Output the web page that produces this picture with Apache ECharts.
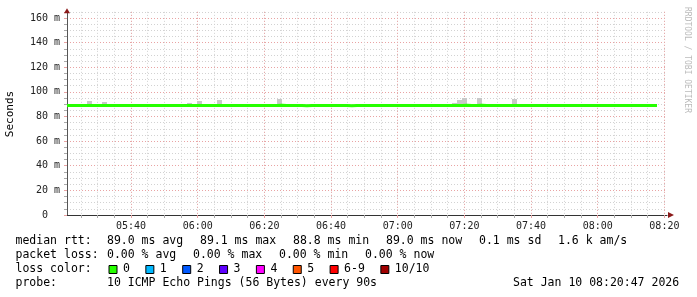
<!DOCTYPE html>
<html>
<head>
<meta charset="utf-8">
<script src="https://cdn.jsdelivr.net/npm/echarts@6/dist/echarts.min.js"></script>
<style>
html,body{margin:0;padding:0;background:#fff;}
#c{width:697px;height:297px;}
</style>
</head>
<body>
<div id="c"></div>
<script>
// ---- data ----
var startTime = '05:20:47';
var endTime = '08:20:47';
var stepSec = 90;
// median rtt (ms) per 90 s interval
var medianMs = [
  89.0, 89.0, 89.0, 89.0, 89.0, 89.0, 89.0, 89.0, 89.0, 89.0,
  89.0, 89.0, 89.0, 89.0, 89.0, 89.0, 89.0, 89.0, 89.0, 89.0,
  89.0, 89.0, 89.0, 89.0, 89.0, 89.0, 89.0, 89.0, 89.0, 89.0,
  89.0, 89.0, 89.0, 89.0, 89.0, 89.0, 89.0, 89.0, 89.0, 89.0,
  89.0, 89.0, 89.1, 89.0, 89.0, 89.0, 89.0, 88.8, 89.0, 89.0,
  89.0, 89.0, 89.0, 89.0, 89.0, 89.0, 88.8, 89.0, 89.0, 89.0,
  89.0, 89.0, 89.0, 89.0, 89.0, 89.0, 89.0, 89.0, 89.0, 89.0,
  89.0, 89.0, 89.0, 89.0, 89.0, 89.0, 89.0, 89.0, 89.0, 89.1,
  89.0, 89.0, 89.1, 89.0, 89.0, 89.0, 89.0, 89.0, 89.0, 89.0,
  89.0, 89.0, 89.0, 89.0, 89.0, 89.0, 89.0, 89.0, 89.0, 89.0,
  89.0, 89.0, 89.0, 89.0, 89.0, 89.0, 89.0, 89.0, 89.0, 89.0,
  89.0, 89.0, 89.0, 89.0, 89.0, 89.0, 89.0, 89.0
];
// highest ping (smoke top, ms) per interval
var smokeTopMs = [
  89.6, 89.6, 89.6, 89.6, 92.6, 89.6, 89.6, 91.8, 89.6, 89.6,
  89.6, 89.6, 89.6, 89.6, 89.6, 89.6, 89.6, 89.6, 89.6, 89.6,
  89.6, 89.6, 89.6, 89.6, 91.0, 89.6, 92.6, 89.6, 89.6, 89.6,
  93.4, 89.6, 89.6, 89.6, 89.6, 89.6, 89.6, 89.6, 89.6, 89.6,
  89.6, 89.6, 94.2, 89.6, 89.6, 89.6, 89.6, 89.6, 89.6, 89.6,
  89.6, 89.6, 89.6, 89.6, 89.6, 89.6, 89.6, 89.6, 89.6, 89.6,
  89.6, 89.6, 89.6, 89.6, 89.6, 89.6, 89.6, 89.6, 89.6, 89.6,
  89.6, 89.6, 89.6, 89.6, 89.6, 89.6, 89.6, 91.0, 93.4, 95.0,
  89.6, 89.6, 95.0, 89.6, 89.6, 89.6, 89.6, 89.6, 89.6, 94.2,
  89.6, 89.6, 89.6, 89.6, 89.6, 89.6, 89.6, 89.6, 89.6, 89.6,
  89.6, 89.6, 89.6, 89.6, 89.6, 89.6, 89.6, 89.6, 89.6, 89.6,
  89.6, 89.6, 89.6, 89.6, 89.6, 89.6, 89.6, 89.6
];
var xTickLabels = ['05:40','06:00','06:20','06:40','07:00','07:20','07:40','08:00','08:20'];
var yTickValues = [0, 20, 40, 60, 80, 100, 120, 140, 160];
var rttStats = ['89.0 ms avg', '89.1 ms max', '88.8 ms min', '89.0 ms now', '0.1 ms sd', '1.6 k am/s'];
var lossStats = ['0.00 % avg', '0.00 % max', '0.00 % min', '0.00 % now'];
var lossLabels = ['0', '1', '2', '3', '4', '5', '6-9', '10/10'];
var lossColors = ['#26ff00', '#00b8ff', '#0059ff', '#5e00ff', '#ff00ff', '#ff5500', '#ff0000', '#a10000'];
var probeText = '10 ICMP Echo Pings (56 Bytes) every 90s';
var dateText = 'Sat Jan 10 08:20:47 2026';

// ---- helpers ----
function toSec(s){var p=s.split(':').map(Number);return p[0]*3600+p[1]*60+(p[2]||0);}
function fmt(sec){var h=Math.floor(sec/3600),m=Math.floor((sec%3600)/60);return (h<10?'0':'')+h+':'+(m<10?'0':'')+m;}
var S = toSec(startTime), E = toSec(endTime);
var majorVals = xTickLabels.map(toSec);
var minorVals = [];
for (var t = Math.ceil(S/300)*300; t <= E; t += 300) minorVals.push(t);

var lineData = [];
var smokeData = [];
for (var i = 0; i < medianMs.length; i++) {
  var t0 = S + i*stepSec;
  lineData.push([t0, medianMs[i]]);
  smokeData.push([t0, t0 + stepSec, medianMs[i], smokeTopMs[i]]);
}
lineData.push([S + medianMs.length*stepSec, medianMs[medianMs.length-1]]);

var MONO = 'DejaVu Sans Mono';
var GRAY = '#d2d2d2', RED = '#e9a3a3';

var chart = echarts.init(document.getElementById('c'), null, {renderer:'canvas'});

var option = {
  animation: false,
  backgroundColor: '#fff',
  grid: {left: 67, right: 30, top: 11.84, bottom: 82, containLabel: false},
  xAxis: [
    {type:'value', min:S, max:E, position:'bottom',
     axisLine:{show:true, onZero:false, lineStyle:{color:'#333', width:1}},
     axisTick:{show:true, customValues:minorVals, length:3, lineStyle:{color:'#aaa'}},
     axisLabel:{show:false},
     splitLine:{show:true, lineStyle:{color:GRAY, type:[1,2], width:1}}},
    {type:'value', min:S, max:E, position:'bottom',
     axisLine:{show:false, onZero:false},
     axisTick:{show:true, customValues:majorVals, length:3, lineStyle:{color:RED}},
     axisLabel:{show:true, customValues:majorVals, formatter:function(v){return fmt(v);},
       fontFamily:MONO, fontSize:10, color:'#222', margin:6},
     splitLine:{show:true, lineStyle:{color:RED, type:[1,2], width:1}}}
  ],
  yAxis: [
    {type:'value', min:0, max:165, interval:5, position:'left',
     axisLine:{show:true, onZero:false, lineStyle:{color:'#555', width:1}},
     axisTick:{show:true, length:3, lineStyle:{color:'#aaa'}},
     axisLabel:{show:false},
     splitLine:{show:true, lineStyle:{color:GRAY, type:[1,2], width:1}}},
    {type:'value', min:0, max:165, interval:20, position:'left',
     axisLine:{show:false, onZero:false},
     axisTick:{show:true, length:3, lineStyle:{color:RED}},
     axisLabel:{show:true, fontFamily:MONO, fontSize:10, color:'#222', margin:7,
       formatter:function(v){ if (yTickValues.indexOf(v) < 0) return ''; return v === 0 ? '0  ' : v + ' m'; }},
     splitLine:{show:true, showMaxLine:false, lineStyle:{color:RED, type:[1,2], width:1}}}
  ],
  series: [
    {type:'custom', xAxisIndex:0, yAxisIndex:0, z:2, silent:true,
     data: smokeData,
     renderItem: function(params, api){
       var a = api.coord([api.value(0), api.value(3)]);
       var b = api.coord([api.value(1), api.value(2)]);
       return {type:'rect', shape:{x:a[0], y:a[1], width:b[0]-a[0], height:b[1]-a[1]},
               style:{fill:'#c8c8c8'}};
     }},
    {type:'line', xAxisIndex:0, yAxisIndex:0, z:3, silent:true,
     data: lineData, step:'end', showSymbol:false, symbol:'none',
     lineStyle:{color:'#26ff00', width:3}}
  ]
};
chart.setOption(option);

// ---- texts & decorations ----
var g = [];
var txtStyle = function(text, x, y, extra){
  var st = {text:text, x:x, y:y, fontFamily:MONO, fontSize:11.5, fill:'#000', verticalAlign:'middle', align:'left'};
  for (var k in (extra||{})) st[k] = extra[k];
  return {type:'text', style:st, silent:true, z:10};
};
var rowY = [241, 255, 269, 283];
g.push(txtStyle('median rtt:', 15.5, rowY[0]));
var rttX = [107, 200, 293, 386, 479, 558];
rttStats.forEach(function(s, i){ g.push(txtStyle(s, rttX[i], rowY[0])); });
g.push(txtStyle('packet loss:', 15.5, rowY[1]));
var lossX = [107, 193, 279, 365];
lossStats.forEach(function(s, i){ g.push(txtStyle(s, lossX[i], rowY[1])); });
g.push(txtStyle('loss color:', 15.5, rowY[2]));
var sx = 108.5;
lossLabels.forEach(function(s, i){
  g.push({type:'rect', shape:{x:sx+0.5, y:265.5, width:8, height:8}, style:{fill:lossColors[i], stroke:'#000', lineWidth:1}, z:10, silent:true});
  g.push(txtStyle(s, sx + 14.5, rowY[2]));
  sx += 14.7 + s.length*6.95 + 15.2;
});
g.push(txtStyle('probe:', 15.5, rowY[3]));
g.push(txtStyle(probeText, 107, rowY[3]));
g.push(txtStyle(dateText, 513, rowY[3]));
// y-axis title
g.push({type:'text', x:10, y:114, rotation:Math.PI/2, silent:true, z:10,
  style:{text:'Seconds', fontFamily:MONO, fontSize:11, fill:'#000', align:'center', verticalAlign:'middle'}});
// watermark
g.push({type:'text', x:687, y:60, rotation:-Math.PI/2, silent:true, z:10,
  style:{text:'RRDTOOL / TOBI OETIKER', fontFamily:MONO, fontSize:8, fill:'#bbbbbb', align:'center', verticalAlign:'middle'}});
// axis arrows
var br = chart.convertToPixel({xAxisIndex:0, yAxisIndex:0}, [E, 0]);
var tl = chart.convertToPixel({xAxisIndex:0, yAxisIndex:0}, [S, 165]);
g.push({type:'polygon', shape:{points:[[br[0]+1, br[1]-3],[br[0]+7, br[1]],[br[0]+1, br[1]+3]]}, style:{fill:'#8b1a1a'}, z:10, silent:true});
g.push({type:'polygon', shape:{points:[[tl[0]-3, tl[1]+1.5],[tl[0], tl[1]-3.5],[tl[0]+3, tl[1]+1.5]]}, style:{fill:'#8b1a1a'}, z:10, silent:true});
chart.setOption({graphic: g});
</script>
</body>
</html>
